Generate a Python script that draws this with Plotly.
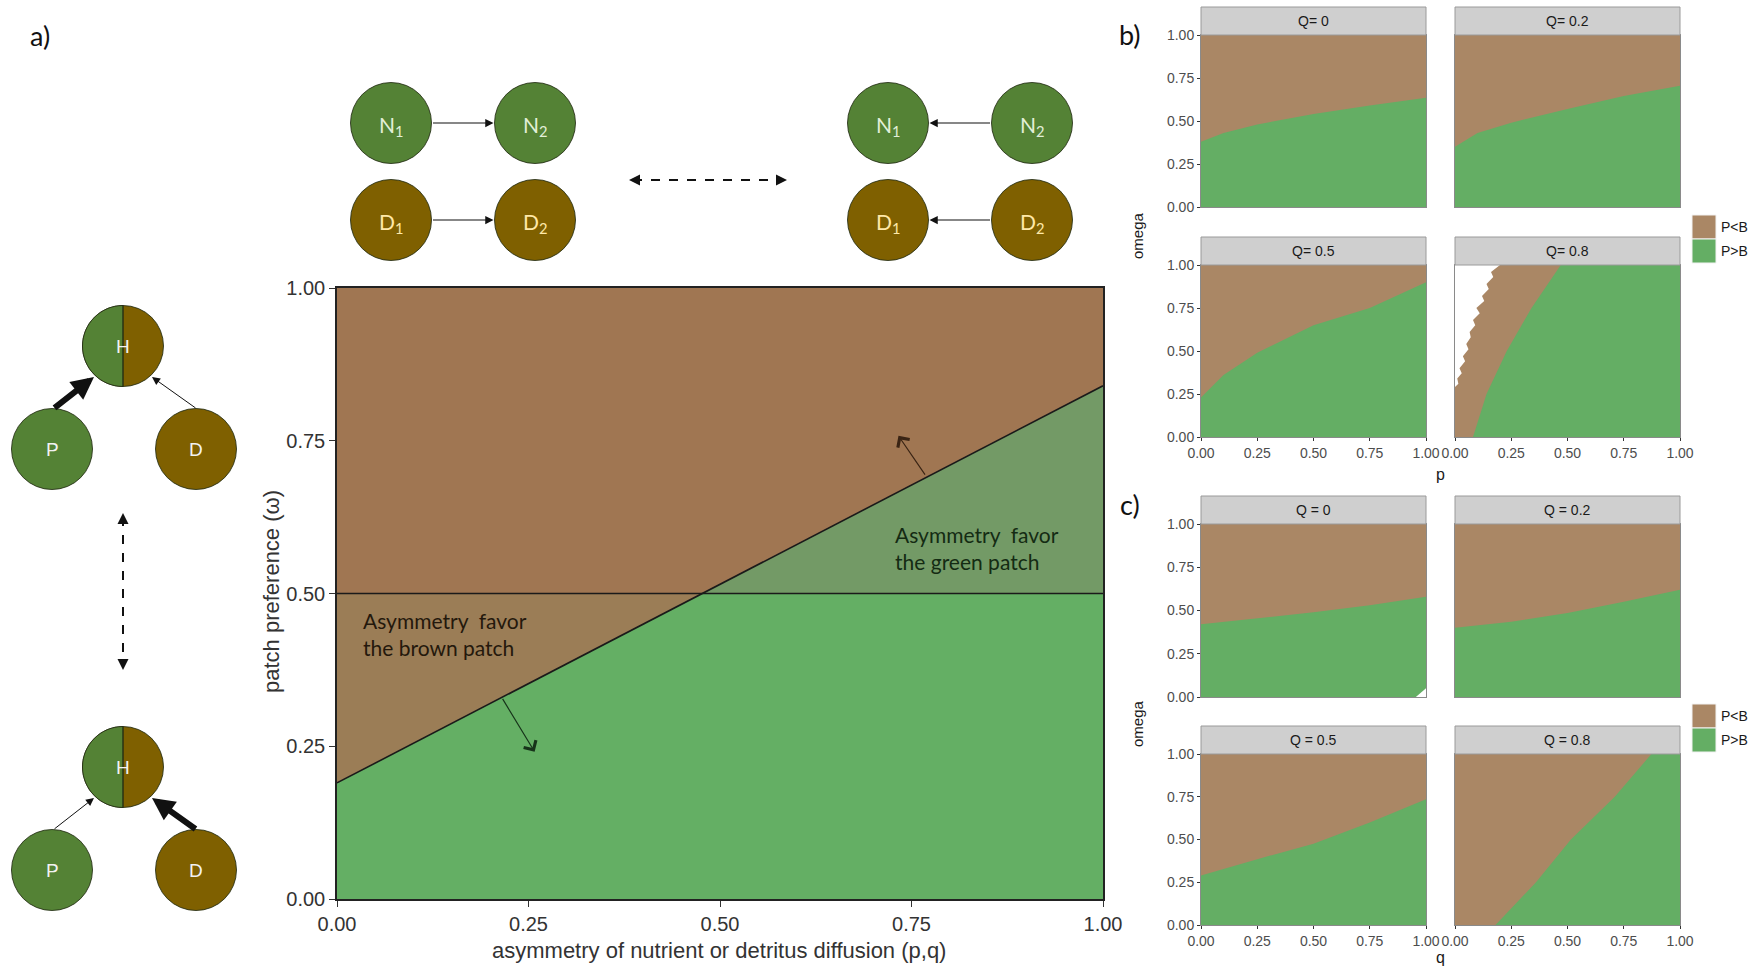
import plotly.graph_objects as go

W, H = 1751, 969

# ---------------- data ----------------
# panel a : boundary between the two asymmetry regimes
diag_x = [0.0, 1.0]
diag_y = [0.19, 0.84]
pref_level = 0.5
axis_ticks = [0.0, 0.25, 0.5, 0.75, 1.0]
axis_ticktext = ["0.00", "0.25", "0.50", "0.75", "1.00"]

# panel b : omega boundary vs p (P>B below the curve)
b_labels = ["Q= 0", "Q= 0.2", "Q= 0.5", "Q= 0.8"]
b_q0_x = [0.0, 0.1, 0.25, 0.5, 0.75, 1.0]
b_q0_y = [0.38, 0.43, 0.48, 0.54, 0.59, 0.635]
b_q02_x = [0.0, 0.1, 0.25, 0.5, 0.75, 1.0]
b_q02_y = [0.35, 0.43, 0.49, 0.57, 0.645, 0.705]
b_q05_x = [0.0, 0.1, 0.25, 0.5, 0.75, 1.0]
b_q05_y = [0.23, 0.36, 0.49, 0.65, 0.75, 0.90]
b_q08_x = [0.08, 0.14, 0.23, 0.34, 0.47, 1.0]
b_q08_y = [0.0, 0.25, 0.5, 0.75, 1.0, 1.0]
# unresolved (white) area in Q=0.8
b_q08_gap_y = [0.29, 0.31, 0.34, 0.37, 0.40, 0.44, 0.47, 0.51, 0.54, 0.58, 0.61, 0.65, 0.68,
               0.72, 0.75, 0.79, 0.82, 0.86, 0.89, 0.93, 0.96, 1.0]
b_q08_gap_x = [0.0, 0.015, 0.01, 0.03, 0.02, 0.045, 0.035, 0.06, 0.05, 0.07, 0.065, 0.09, 0.08,
               0.11, 0.095, 0.13, 0.12, 0.15, 0.14, 0.17, 0.16, 0.20]

# panel c : omega boundary vs q
c_labels = ["Q = 0", "Q = 0.2", "Q = 0.5", "Q = 0.8"]
c_q0_x = [0.0, 0.25, 0.5, 0.75, 1.0]
c_q0_y = [0.42, 0.455, 0.49, 0.53, 0.58]
c_q02_x = [0.0, 0.25, 0.5, 0.75, 1.0]
c_q02_y = [0.40, 0.435, 0.485, 0.55, 0.62]
c_q05_x = [0.0, 0.25, 0.5, 0.75, 1.0]
c_q05_y = [0.29, 0.385, 0.475, 0.60, 0.735]
c_q08_x = [0.18, 0.36, 0.515, 0.71, 0.873, 1.0]
c_q08_y = [0.0, 0.25, 0.5, 0.75, 1.0, 1.0]
c_q0_gap_x = [0.955, 1.0, 1.0]
c_q0_gap_y = [0.0, 0.0, 0.05]

legend_labels = ["P<B", "P>B"]

# ---------------- style ----------------
C_BROWN_TOP = "#A07652"
C_BROWN_TRI = "#9B7D56"
C_GREEN_TRI = "#739A66"
C_GREEN = "#64AF64"
F_BROWN = "#AA8765"
F_GREEN = "#64AE64"
NODE_GREEN = "#548235"
NODE_BROWN = "#7F6000"
SANS = "Liberation Sans, Arial, sans-serif"
CAL = "Lato, Carlito, Calibri, sans-serif"


def px(x):
    return x / W


def py(y):
    return 1 - y / H


fig = go.Figure()

# ---------------- panel a ----------------
xc = (pref_level - diag_y[0]) / (diag_y[1] - diag_y[0]) * (diag_x[1] - diag_x[0]) + diag_x[0]
nol = dict(width=0)
fig.add_trace(go.Scatter(x=[0, 1], y=[1, 1], fill="tozeroy", fillcolor=C_BROWN_TOP, mode="lines", line=nol, xaxis="x", yaxis="y"))
fig.add_trace(go.Scatter(x=[0, 1], y=[pref_level, pref_level], fill="tozeroy", fillcolor=C_BROWN_TRI, mode="lines", line=nol, xaxis="x", yaxis="y"))
fig.add_trace(go.Scatter(x=diag_x, y=diag_y, fill="tozeroy", fillcolor=C_GREEN_TRI, mode="lines", line=nol, xaxis="x", yaxis="y"))
fig.add_trace(go.Scatter(x=[diag_x[0], xc, 1], y=[diag_y[0], pref_level, pref_level], fill="tozeroy", fillcolor=C_GREEN, mode="lines", line=nol, xaxis="x", yaxis="y"))
fig.add_trace(go.Scatter(x=[0, 1], y=[pref_level, pref_level], mode="lines", line=dict(color="#1a1a1a", width=1.6), xaxis="x", yaxis="y"))
fig.add_trace(go.Scatter(x=diag_x, y=diag_y, mode="lines", line=dict(color="#1a1a1a", width=1.6), xaxis="x", yaxis="y"))

main_ax = dict(range=[0, 1], showline=True, mirror=True, linecolor="#222", linewidth=1.5,
               ticks="outside", ticklen=6, tickcolor="#333", tickwidth=1.2, automargin=False,
               showgrid=False, zeroline=False, tickvals=axis_ticks, ticktext=axis_ticktext,
               tickfont=dict(family=SANS, size=20, color="#333"), layer="above traces", fixedrange=True)

layout = dict(
    xaxis=dict(domain=[px(337), px(1103)], anchor="y", **main_ax),
    yaxis=dict(domain=[py(899), py(288)], anchor="x", **main_ax),
)

annotations = []
shapes = []


def label(xx, yy, text, font, xanchor="center", angle=0):
    annotations.append(dict(x=px(xx), y=py(yy), xref="paper", yref="paper", showarrow=False, text=text,
                            xanchor=xanchor, yanchor="middle", textangle=angle, font=font))


# arrows inside panel a
annotations.append(dict(x=0.733, y=0.758, ax=0.769, ay=0.692, xref="x", yref="y", axref="x", ayref="y",
                        showarrow=True, arrowhead=4, arrowsize=2.3, arrowwidth=1.2, arrowcolor="#3a2414", text=""))
annotations.append(dict(x=0.258, y=0.241, ax=0.215, ay=0.33, xref="x", yref="y", axref="x", ayref="y",
                        showarrow=True, arrowhead=4, arrowsize=2.3, arrowwidth=1.2, arrowcolor="#17331a", text=""))
annotations.append(dict(x=0.031, y=0.434, xref="x", yref="y", xanchor="left", yanchor="middle", showarrow=False,
                        align="left", text="Asymmetry\u00a0 favor<br>the brown patch",
                        font=dict(family=CAL, size=21, color="#24180c")))
annotations.append(dict(x=0.726, y=0.575, xref="x", yref="y", xanchor="left", yanchor="middle", showarrow=False,
                        align="left", text="Asymmetry\u00a0 favor<br>the green patch",
                        font=dict(family=CAL, size=21, color="#142b13")))
label(271, 592, "patch preference (\u03c9)", dict(family=SANS, size=22, color="#333"), angle=-90)
label(719, 950, "asymmetry of nutrient or detritus diffusion (p,q)", dict(family=SANS, size=22, color="#333"))

# ---------------- panels b and c ----------------
cols = [(1201, 1426), (1455, 1680)]
facets = [
    dict(label=b_labels[0], x=b_q0_x, y=b_q0_y, col=0, row=(35, 207), strip=(7, 35), xt=False, yt=True),
    dict(label=b_labels[1], x=b_q02_x, y=b_q02_y, col=1, row=(35, 207), strip=(7, 35), xt=False, yt=False),
    dict(label=b_labels[2], x=b_q05_x, y=b_q05_y, col=0, row=(265, 437), strip=(237, 265), xt=True, yt=True),
    dict(label=b_labels[3], x=b_q08_x, y=b_q08_y, col=1, row=(265, 437), strip=(237, 265), xt=True, yt=False,
         gap=([0] + b_q08_gap_x + [0], [b_q08_gap_y[0]] + b_q08_gap_y + [1.0])),
    dict(label=c_labels[0], x=c_q0_x, y=c_q0_y, col=0, row=(524, 697), strip=(496, 524), xt=False, yt=True,
         gap=(c_q0_gap_x, c_q0_gap_y)),
    dict(label=c_labels[1], x=c_q02_x, y=c_q02_y, col=1, row=(524, 697), strip=(496, 524), xt=False, yt=False),
    dict(label=c_labels[2], x=c_q05_x, y=c_q05_y, col=0, row=(754, 925), strip=(726, 754), xt=True, yt=True),
    dict(label=c_labels[3], x=c_q08_x, y=c_q08_y, col=1, row=(754, 925), strip=(726, 754), xt=True, yt=False),
]

tickfont_f = dict(family=SANS, size=14, color="#4d4d4d")
for i, f in enumerate(facets):
    n = i + 2
    xa, ya = f"x{n}", f"y{n}"
    x0, x1 = cols[f["col"]]
    r0, r1 = f["row"]
    fig.add_trace(go.Scatter(x=[0, 1], y=[1, 1], fill="tozeroy", fillcolor=F_BROWN, mode="lines", line=nol, xaxis=xa, yaxis=ya))
    fig.add_trace(go.Scatter(x=f["x"], y=f["y"], fill="tozeroy", fillcolor=F_GREEN, mode="lines", line=nol, xaxis=xa, yaxis=ya))
    if "gap" in f:
        gx, gy = f["gap"]
        fig.add_trace(go.Scatter(x=gx, y=gy, fill="toself", fillcolor="#FFFFFF", mode="lines", line=nol, xaxis=xa, yaxis=ya))
    common = dict(range=[0, 1], showgrid=True, gridcolor="rgba(0,0,0,0.07)", gridwidth=1, zeroline=False,
                  showline=True, mirror=True, linecolor="#8a8a8a", linewidth=1, layer="above traces",
                  tickvals=axis_ticks, ticktext=axis_ticktext, tickfont=tickfont_f, fixedrange=True,
                  automargin=False)
    layout[f"xaxis{n}"] = dict(domain=[px(x0), px(x1)], anchor=ya, showticklabels=f["xt"],
                               ticks="outside" if f["xt"] else "", ticklen=3, tickcolor="#333", **common)
    layout[f"yaxis{n}"] = dict(domain=[py(r1), py(r0)], anchor=xa, showticklabels=f["yt"],
                               ticks="outside" if f["yt"] else "", ticklen=3, tickcolor="#333", **common)
    s0, s1 = f["strip"]
    shapes.append(dict(type="rect", xref="paper", yref="paper", x0=px(x0), x1=px(x1), y0=py(s1), y1=py(s0),
                       fillcolor="#CFCFCF", line=dict(color="#9a9a9a", width=1), layer="above"))
    label((x0 + x1) / 2, (s0 + s1) / 2, f["label"], dict(family=SANS, size=14, color="#1a1a1a"))

# facet axis titles
label(1440, 474, "p", dict(family=SANS, size=16, color="#1a1a1a"))
label(1440, 957, "q", dict(family=SANS, size=16, color="#1a1a1a"))
for yy in (236, 724):
    label(1137, yy, "omega", dict(family=SANS, size=15, color="#1a1a1a"), angle=-90)

# legends
for top in (215, 704):
    for k, (lab, col) in enumerate(zip(legend_labels, [F_BROWN, F_GREEN])):
        y0 = top + k * 24
        shapes.append(dict(type="rect", xref="paper", yref="paper", x0=px(1692), x1=px(1716), y0=py(y0 + 24), y1=py(y0),
                           fillcolor=col, line=dict(color="#f2f2f2", width=1), layer="above"))
        label(1719, y0 + 12, lab, dict(family=SANS, size=14, color="#1a1a1a"), xanchor="left")

# panel letters
for lab, (xx, yy) in [("a)", (40, 35)), ("b)", (1130, 34)), ("c)", (1130, 505))]:
    label(xx, yy, lab, dict(family=CAL, size=27, color="#111"))

# ---------------- schematic diagrams ----------------
R = 40.5


def circle(cx, cy, color):
    shapes.append(dict(type="circle", xref="paper", yref="paper", x0=px(cx - R), x1=px(cx + R),
                       y0=py(cy + R), y1=py(cy - R), fillcolor=color,
                       line=dict(color="rgba(35,45,20,0.85)", width=1), layer="above"))


def half_node(cx, cy):
    circle(cx, cy, NODE_BROWN)
    k = 0.5523 * R
    pts = [(cx, cy - R), (cx - k, cy - R), (cx - R, cy - k), (cx - R, cy), (cx - R, cy + k), (cx - k, cy + R), (cx, cy + R)]
    p = [f"{px(a):.6f},{py(b):.6f}" for a, b in pts]
    path = f"M{p[0]} C{p[1]} {p[2]} {p[3]} C{p[4]} {p[5]} {p[6]} Z"
    shapes.append(dict(type="path", xref="paper", yref="paper", path=path, fillcolor=NODE_GREEN,
                       line=dict(color="rgba(35,45,20,0.85)", width=1), layer="above"))


def arrow(tail, head, width=1.0, size=1.4, color="#111", kind=2):
    annotations.append(dict(x=px(head[0]), y=py(head[1]), xref="paper", yref="paper",
                            ax=tail[0] - head[0], ay=tail[1] - head[1], showarrow=True, arrowhead=kind,
                            arrowsize=size, arrowwidth=width, arrowcolor=color, text=""))


# diffusion diagrams (top)
for (cx1, cx2, direction) in [(391, 535, 1), (888, 1032, -1)]:
    for cy, col, lab, tcol in [(123, NODE_GREEN, "N", "#E2EFD9"), (220, NODE_BROWN, "D", "#FFE9A8")]:
        circle(cx1, cy, col)
        circle(cx2, cy, col)
        label(cx1, cy + 3, f"{lab}<sub>1</sub>", dict(family=CAL, size=21, color=tcol))
        label(cx2, cy + 3, f"{lab}<sub>2</sub>", dict(family=CAL, size=21, color=tcol))
        if direction == 1:
            arrow((cx1 + R, cy), (cx2 - R - 1, cy), width=1.1, size=1.5)
        else:
            arrow((cx2 - R, cy), (cx1 + R + 1, cy), width=1.1, size=1.5)

# dashed double arrows
shapes.append(dict(type="line", xref="paper", yref="paper", x0=px(633), x1=px(783), y0=py(180), y1=py(180),
                   line=dict(color="#111", width=2, dash="dash"), layer="above"))
arrow((637, 180), (629, 180), width=2, size=1.1)
arrow((779, 180), (787, 180), width=2, size=1.1)
shapes.append(dict(type="line", xref="paper", yref="paper", x0=px(123), x1=px(123), y0=py(517), y1=py(666),
                   line=dict(color="#111", width=2, dash="dash"), layer="above"))
arrow((123, 521), (123, 513), width=2, size=1.1)
arrow((123, 662), (123, 670), width=2, size=1.1)

# food web diagrams (left)
for hy, pyy, thick in [(346, 449, "P"), (767, 870, "D")]:
    half_node(123, hy)
    shapes.append(dict(type="line", xref="paper", yref="paper", x0=px(123), x1=px(123), y0=py(hy + R), y1=py(hy - R),
                       line=dict(color="rgba(35,45,20,0.9)", width=1), layer="above"))
    circle(52, pyy, NODE_GREEN)
    circle(196, pyy, NODE_BROWN)
    label(123, hy, "H", dict(family=SANS, size=19, color="#F2F2F2"))
    label(52, pyy, "P", dict(family=SANS, size=19, color="#F2F2F2"))
    label(196, pyy, "D", dict(family=SANS, size=19, color="#F2F2F2"))
    tail_p, head_p = (53, pyy - 40), (94, hy + 31)
    tail_d, head_d = (197, pyy - 40), (152, hy + 31)
    if thick == "P":
        arrow(tail_p, head_p, width=6, size=0.75)
        arrow(tail_d, head_d, width=1, size=1.6)
    else:
        arrow(tail_p, head_p, width=1, size=1.6)
        arrow(tail_d, head_d, width=6, size=0.75)

fig.update_layout(
    width=W, height=H, autosize=False,
    margin=dict(l=0, r=0, t=0, b=0, pad=0),
    paper_bgcolor="white", plot_bgcolor="white",
    showlegend=False,
    shapes=shapes, annotations=annotations,
    **layout,
)

fig.write_html("out.html", config={"displayModeBar": False},
               post_script="document.body.style.margin='0';document.body.style.overflow='hidden';")
